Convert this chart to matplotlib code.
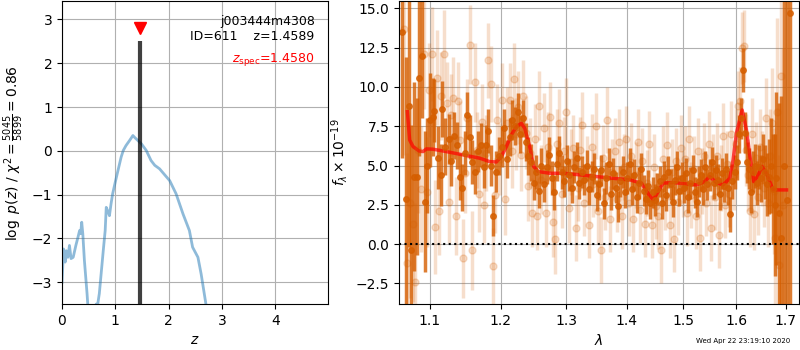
import matplotlib
matplotlib.use("Agg")
import matplotlib.pyplot as plt
from matplotlib.ticker import FixedLocator, FormatStrFormatter, NullLocator

# p(z) curve
pz_z = [0.0, 0.03, 0.06, 0.08, 0.11, 0.14, 0.17, 0.21, 0.26, 0.30, 0.33, 0.35, 0.37, 0.39,
        0.42, 0.47, 0.50, 0.55, 0.60, 0.64, 0.67, 0.70, 0.74, 0.78, 0.81, 0.83, 0.86, 0.89,
        0.92, 0.95, 1.0, 1.05, 1.11, 1.15, 1.2, 1.27, 1.33, 1.36, 1.42, 1.49, 1.58, 1.67,
        1.74, 1.83, 2.02, 2.14, 2.27, 2.39, 2.45, 2.55, 2.61, 2.70, 2.75]
pz_logp = [-3.0, -2.24, -2.54, -2.28, -2.43, -2.16, -2.46, -2.43, -2.16, -1.97, -1.82, -1.89,
           -1.63, -1.89, -2.5, -3.26, -3.8, -4.3, -4.1, -3.5, -3.5, -3.26, -2.73, -2.2, -1.82,
           -1.29, -1.38, -1.48, -1.21, -0.98, -0.71, -0.45, -0.14, 0.01, 0.12, 0.24, 0.35,
           0.31, 0.24, 0.16, 0.01, -0.22, -0.33, -0.41, -0.68, -0.98, -1.44, -1.82, -2.2,
           -2.43, -2.81, -3.5, -3.9]
z_best = 1.4589
z_spec = 1.4580

# combined spectrum
wave_dark = [1.064, 1.068, 1.072, 1.075, 1.079, 1.083, 1.086, 1.090, 1.094, 1.097, 1.101, 1.104,
             1.106, 1.111, 1.115, 1.117, 1.121, 1.126, 1.129, 1.133, 1.137, 1.141, 1.144, 1.148,
             1.152, 1.155, 1.159, 1.163, 1.167, 1.171, 1.175, 1.178, 1.182, 1.186, 1.189, 1.193,
             1.197, 1.201, 1.205, 1.209, 1.213, 1.217, 1.221, 1.225, 1.229, 1.233, 1.237, 1.241,
             1.245, 1.249, 1.253, 1.257, 1.261, 1.265, 1.269, 1.273, 1.277, 1.281, 1.285, 1.289,
             1.293, 1.297, 1.301, 1.305, 1.309, 1.313, 1.317, 1.321, 1.325, 1.329, 1.333, 1.337,
             1.341, 1.345, 1.349, 1.353, 1.357, 1.361, 1.365, 1.369, 1.373, 1.377, 1.381, 1.385,
             1.389, 1.393, 1.397, 1.401, 1.405, 1.409, 1.413, 1.417, 1.421, 1.425, 1.429, 1.433,
             1.437, 1.441, 1.445, 1.449, 1.453, 1.457, 1.461, 1.465, 1.469, 1.473, 1.477, 1.481,
             1.485, 1.489, 1.493, 1.497, 1.501, 1.505, 1.509, 1.513, 1.517, 1.521, 1.525, 1.529,
             1.533, 1.537, 1.541, 1.545, 1.549, 1.553, 1.557, 1.561, 1.565, 1.569, 1.573, 1.577,
             1.581, 1.585, 1.589, 1.593, 1.597, 1.601, 1.605, 1.609, 1.613, 1.617, 1.621, 1.625,
             1.629, 1.633, 1.637, 1.641, 1.645, 1.649, 1.653, 1.657, 1.661, 1.665, 1.669, 1.673,
             1.677, 1.681, 1.686, 1.691, 1.697, 1.703, 1.709]
flux_dark = [13.5, 2.9, 8.8, -0.4, 4.3, 4.3, 10.6, 12.0, 2.7, 5.0, 7.9, 8.1,
             8.5, 5.5, 4.4, 8.6, 6.2, 6.7, 5.3, 6.9, 6.3, 4.3, 3.6, 5.8,
             8.2, 6.8, 5.2, 4.6, 5.9, 6.3, 4.9, 6.3, 7.2, 5.0, 1.8, 4.6,
             5.6, 6.2, 7.4, 5.4, 6.8, 7.9, 7.5, 8.4, 7.0, 8.0, 6.5, 5.6,
             5.2, 3.9, 4.6, 3.4, 5.0, 3.8, 4.9, 5.7, 4.2, 3.3, 5.1, 5.8,
             4.6, 4.0, 5.3, 4.4, 3.6, 4.9, 5.5, 3.9, 4.6, 4.1, 5.0, 3.5,
             4.3, 4.8, 3.1, 3.8, 4.7, 2.6, 4.2, 5.1, 3.2, 4.5, 3.6, 2.4,
             4.0, 4.6, 3.3, 4.2, 5.1, 3.5, 4.4, 3.0, 3.9, 4.8, 3.4, 2.9,
             3.7, 2.6, 3.3, 2.8, 3.5, 4.0, 2.6, 4.3, 3.1, 4.6, 3.8, 2.7,
             4.1, 4.9, 3.4, 4.2, 3.6, 4.5, 3.0, 3.9, 4.7, 3.3, 2.7, 4.0,
             4.4, 3.5, 4.9, 3.8, 4.4, 5.2, 3.9, 4.7, 4.1, 3.2, 4.5, 3.7,
             4.8, 3.6, 1.9, 4.0, 4.6, 5.2, 7.0, 8.0, 11.1, 7.1, 5.2, 4.8,
             3.3, 4.6, 5.0, 3.9, 4.9, 4.2, 5.4, 4.6, 3.8, 4.3, 5.0, 3.5,
             2.5, 4.2, 2.0, 0.4, 5.0, 2.8, 14.7]
err_dark = [8.0, 9.0, 9.0, 8.0, 6.0, 5.0, 5.0, 4.0, 4.5, 3.0, 3.0, 2.5,
            2.0, 2.0, 2.0, 1.8, 1.8, 1.6, 1.6, 1.5, 1.5, 1.5, 1.5, 1.4,
            1.5, 1.4, 1.4, 1.4, 1.3, 1.4, 1.3, 1.3, 1.4, 1.3, 1.3, 1.3,
            1.2, 1.3, 1.2, 1.2, 1.2, 1.3, 1.2, 1.2, 1.2, 1.2, 1.2, 1.2,
            1.2, 1.1, 1.1, 1.1, 1.1, 1.1, 1.1, 1.1, 1.1, 1.1, 1.1, 1.1,
            1.1, 1.0, 1.0, 1.0, 1.0, 1.0, 1.0, 1.0, 1.0, 1.0, 1.0, 1.0,
            1.0, 1.0, 1.0, 1.0, 1.0, 1.0, 1.0, 1.0, 1.0, 1.0, 1.0, 1.0,
            1.0, 1.0, 1.0, 1.0, 1.0, 1.0, 1.0, 1.0, 1.0, 1.0, 1.0, 1.0,
            1.0, 1.0, 1.0, 1.0, 1.0, 1.0, 1.0, 1.0, 1.0, 1.0, 1.0, 1.0,
            1.0, 1.0, 1.0, 1.0, 1.0, 1.0, 1.0, 1.0, 1.0, 1.0, 1.0, 1.0,
            1.0, 1.0, 1.0, 1.0, 1.0, 1.0, 1.0, 1.0, 1.0, 1.0, 1.0, 1.0,
            1.0, 1.1, 1.1, 1.1, 1.1, 1.1, 1.2, 1.3, 1.4, 1.3, 1.3, 1.3,
            1.3, 1.3, 1.4, 1.4, 1.4, 1.5, 1.6, 1.7, 2.0, 2.4, 3.0, 3.5,
            4.5, 5.5, 7.0, 9.0, 12.0, 14.0, 20.0]

# individual beams
wave_beam = [1.066, 1.070, 1.074, 1.078, 1.081, 1.085, 1.089, 1.092, 1.096, 1.099, 1.103, 1.107,
             1.110, 1.113, 1.116, 1.119, 1.123, 1.126, 1.129, 1.132, 1.136, 1.139, 1.142, 1.146,
             1.149, 1.152, 1.156, 1.159, 1.162, 1.165, 1.169, 1.172, 1.175, 1.179, 1.182, 1.185,
             1.189, 1.192, 1.195, 1.199, 1.202, 1.206, 1.209, 1.213, 1.216, 1.219, 1.223, 1.226,
             1.230, 1.233, 1.237, 1.240, 1.244, 1.247, 1.251, 1.254, 1.258, 1.261, 1.265, 1.268,
             1.272, 1.275, 1.279, 1.282, 1.286, 1.289, 1.293, 1.296, 1.300, 1.304, 1.307, 1.311,
             1.315, 1.318, 1.322, 1.326, 1.329, 1.333, 1.337, 1.341, 1.344, 1.348, 1.352, 1.356,
             1.360, 1.363, 1.367, 1.371, 1.375, 1.379, 1.383, 1.387, 1.391, 1.395, 1.399, 1.403,
             1.407, 1.411, 1.415, 1.419, 1.423, 1.427, 1.431, 1.435, 1.439, 1.443, 1.447, 1.451,
             1.455, 1.459, 1.463, 1.467, 1.471, 1.475, 1.479, 1.483, 1.487, 1.491, 1.495, 1.499,
             1.503, 1.507, 1.511, 1.515, 1.519, 1.523, 1.527, 1.531, 1.535, 1.539, 1.543, 1.547,
             1.551, 1.555, 1.559, 1.563, 1.567, 1.571, 1.575, 1.579, 1.583, 1.587, 1.591, 1.595,
             1.599, 1.603, 1.607, 1.611, 1.615, 1.619, 1.623, 1.627, 1.631, 1.635, 1.639, 1.643,
             1.647, 1.651, 1.655, 1.659, 1.663, 1.667, 1.671, 1.675, 1.679, 1.683, 1.687, 1.691,
             1.695]
flux_beam = [13.7, -1.2, 2.6, 1.3, -2.4, 6.0, 3.5, 12.1, 3.3, 9.8, 12.1, 1.1,
             10.6, 2.1, 9.4, 12.1, 9.0, 2.7, 8.2, 9.3, 1.8, 9.1, 6.6, -0.9,
             4.5, 8.0, 12.7, -0.4, 10.3, 6.0, 3.2, 7.8, 2.5, 5.8, 11.7, 10.2,
             -1.4, 3.1, 7.9, 5.4, 9.2, 2.9, 7.7, 9.2, 5.9, 10.5, 7.0, 8.7,
             5.7, 9.4, 7.1, 3.7, 5.8, 2.0, 6.7, 1.8, 8.8, 4.1, 7.4, 2.0,
             6.2, 8.1, 1.4, 0.3, 6.4, 7.7, 3.2, 5.9, 8.4, 2.3, 5.2, 6.1,
             1.0, 3.6, 6.0, 7.6, 2.6, 4.8, 1.2, 6.2, 3.8, 7.5, 2.1, -0.4,
             5.5, 3.0, 7.9, 1.6, 4.6, 5.9, 2.9, 6.5, 1.8, 4.9, 6.7, 2.6,
             5.6, 1.6, 4.4, 6.5, 2.2, 5.3, 1.3, 3.9, 6.4, 1.2, 4.9, 2.4,
             1.8, -0.4, 5.4, 3.0, 6.3, 1.2, 4.6, 0.3, 5.3, 2.7, 6.1, 3.8,
             5.4, 2.0, 6.7, 3.1, 4.8, 1.8, 5.9, 0.4, 4.0, 5.6, 2.6, 6.4,
             1.0, 4.9, 3.0, 5.6, 0.6, 4.2, 6.9, 2.5, 5.1, 3.2, 7.0, 4.4,
             6.4, 8.8, 9.1, 12.5, 12.6, 6.0, 4.4, 2.1, 7.0, 1.9, 5.5, 3.0,
             6.2, 4.8, 3.6, 8.0, 2.6, 5.6, 7.7, 3.4, 0.4, 8.4, -1.3, 10.7,
             2.5]
err_beam = [8, 7, 6, 5, 5, 4, 4, 3.5, 3.5, 3, 3, 3,
            3, 2.8, 2.8, 2.8, 2.6, 2.6, 2.6, 2.6, 2.5, 2.5, 2.5, 2.5,
            2.5, 2.5, 2.5, 2.5, 2.5, 2.4, 2.4, 2.4, 2.4, 2.4, 2.4, 2.4,
            2.4, 2.4, 2.3, 2.3, 2.3, 2.3, 2.3, 2.3, 2.3, 2.3, 2.3, 2.3,
            2.3, 2.3, 2.3, 2.2, 2.2, 2.2, 2.2, 2.2, 2.2, 2.2, 2.2, 2.2,
            2.2, 2.2, 2.2, 2.2, 2.2, 2.2, 2.2, 2.2, 2.2, 2.2, 2.1, 2.1,
            2.1, 2.1, 2.1, 2.1, 2.1, 2.1, 2.1, 2.1, 2.1, 2.1, 2.1, 2.1,
            2.1, 2.1, 2.1, 2.1, 2.1, 2.1, 2.1, 2.1, 2.1, 2.1, 2.1, 2.1,
            2.1, 2.1, 2.1, 2.1, 2.1, 2.1, 2.1, 2.1, 2.1, 2.1, 2.1, 2.1,
            2.1, 2.1, 2.1, 2.1, 2.1, 2.1, 2.1, 2.1, 2.1, 2.1, 2.1, 2.1,
            2.1, 2.1, 2.1, 2.1, 2.1, 2.1, 2.1, 2.1, 2.1, 2.1, 2.1, 2.1,
            2.1, 2.1, 2.1, 2.1, 2.1, 2.1, 2.1, 2.1, 2.1, 2.1, 2.1, 2.2,
            2.2, 2.2, 2.2, 2.3, 2.3, 2.3, 2.3, 2.3, 2.3, 2.3, 2.3, 2.4,
            2.4, 2.4, 2.5, 2.6, 2.8, 3.0, 3.5, 4.0, 5.0, 6.0, 7.0, 9.0,
            10.0]

# best-fit template
wave_model = [1.0704, 1.0734, 1.0778, 1.0857, 1.0911, 1.0955, 1.1045, 1.1227, 1.1458, 1.1694,
              1.1838, 1.1935, 1.2008, 1.2082, 1.2156, 1.2231, 1.2306, 1.2356, 1.2431, 1.2492,
              1.2559, 1.2740, 1.2949, 1.3216, 1.3488, 1.3766, 1.4048, 1.4250, 1.4366, 1.4454,
              1.4514, 1.4633, 1.4813, 1.5057, 1.5242, 1.5398, 1.5492, 1.5620, 1.5747, 1.5877,
              1.5942, 1.6007, 1.6119, 1.6204, 1.6284, 1.6350, 1.6423, 1.6517, 1.6605, 1.6741,
              1.7018]
flux_model = [8.43, 6.63, 6.21, 5.93, 5.89, 6.06, 6.04, 5.89, 5.68, 5.47,
              5.25, 5.23, 5.57, 6.21, 6.95, 7.48, 7.69, 7.37, 6.21, 4.94,
              4.62, 4.51, 4.51, 4.41, 4.30, 4.19, 4.09, 3.88, 3.24, 2.82,
              3.14, 3.88, 3.92, 3.83, 3.77, 3.98, 4.30, 3.92, 3.77, 4.19,
              5.36, 7.06, 8.54, 7.27, 5.36, 3.98, 4.30, 4.94, 4.51, 3.45,
              3.45]

grism_color = (0.835, 0.369, 0.0)

fig = plt.figure(figsize=(8, 3.5), dpi=100)

ax = fig.add_axes([0.0775, 0.131, 0.3325, 0.866])
ax.plot(pz_z, pz_logp, color='tab:blue', alpha=0.5, lw=2)
ax.vlines(z_best, -3.5, 2.5, color='k', alpha=0.75, lw=3)
ax.plot([z_spec], [2.8], 'v', color='r', ms=8)
ax.text(0.95, 0.955, 'j003444m4308\nID=611    z=1.4589', ha='right', va='top',
        transform=ax.transAxes, fontsize=9, linespacing=1.25)
ax.text(0.95, 0.835, r'$z_\mathrm{spec}$=1.4580', ha='right', va='top',
        transform=ax.transAxes, fontsize=9, color='r')
ax.set_xlim(0, 4.99)
ax.set_ylim(-3.5, 3.42)
ax.set_xticks([0, 1, 2, 3, 4])
ax.set_yticks([-3, -2, -1, 0, 1, 2, 3])
ax.grid()
ax.set_xlabel(r'$z$')
ax.set_ylabel(r'$\log\ p(z)$ / $\chi^2=\frac{5045}{5899}=0.86$')

ax = fig.add_axes([0.49875, 0.131, 0.5, 0.866])
ax.errorbar(wave_beam, flux_beam, yerr=err_beam, color=grism_color, alpha=0.2,
            marker='o', ms=5, linestyle='None', elinewidth=2.5)
ax.errorbar(wave_dark, flux_dark, yerr=err_dark, color=grism_color, alpha=0.8,
            marker='o', ms=4, linestyle='None', elinewidth=2.5)
ax.plot(wave_model, flux_model, color='r', alpha=0.7, lw=2.5)
ax.axhline(0, color='k', linestyle=':', lw=1.5)
ax.set_xscale('log')
ax.set_xlim(1.0595, 1.728)
ax.set_ylim(-3.82, 15.47)
ax.xaxis.set_major_locator(FixedLocator([1.1, 1.2, 1.3, 1.4, 1.5, 1.6, 1.7]))
ax.xaxis.set_major_formatter(FormatStrFormatter('%.1f'))
ax.xaxis.set_minor_locator(NullLocator())
ax.grid()
ax.set_xlabel(r'$\lambda$')
ax.set_ylabel(r'$f_\lambda\times10^{-19}$')

fig.text(0.9875, 0.018, 'Wed Apr 22 23:19:10 2020', ha='right', va='bottom', fontsize=5)

fig.savefig('out.png', dpi=100)
